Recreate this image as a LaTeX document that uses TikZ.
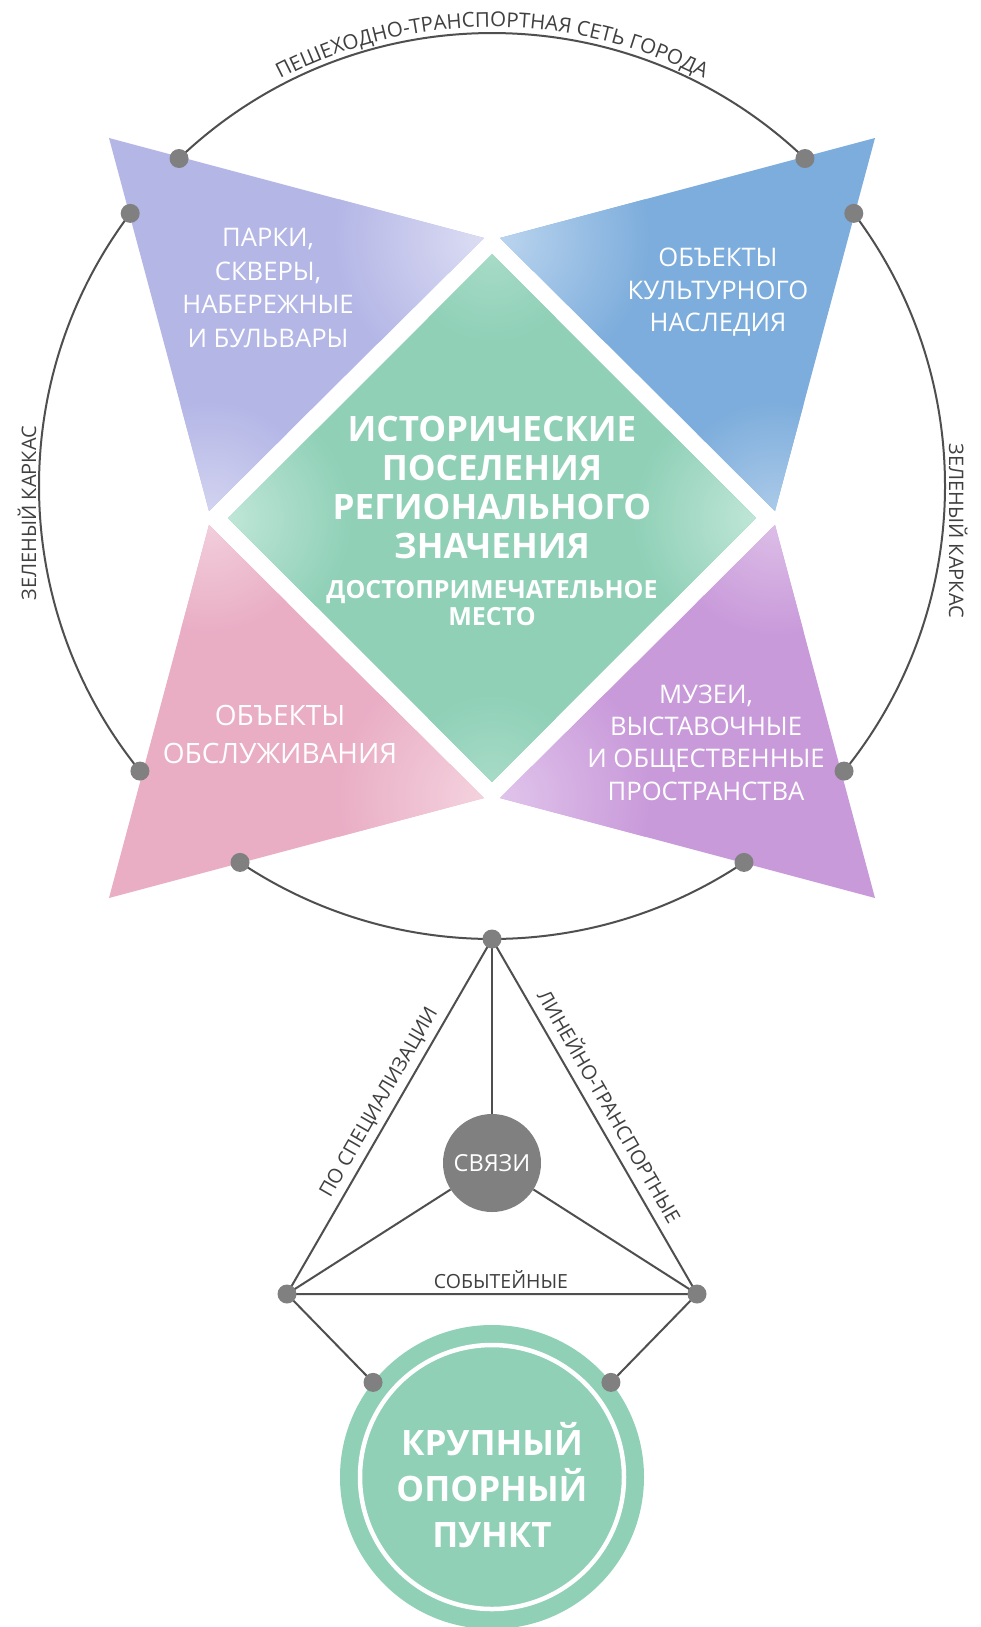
\documentclass[tikz,border=0pt]{standalone}
\usepackage{fontspec}
\setmainfont{Open Sans}
\usetikzlibrary{decorations.text}
\definecolor{lav}{HTML}{B4B6E6}
\definecolor{lavl}{HTML}{DCDDF3}
\definecolor{blu}{HTML}{7DADDC}
\definecolor{blul}{HTML}{BAD4EE}
\definecolor{pnk}{HTML}{E9ADC4}
\definecolor{pnkl}{HTML}{F4D2DE}
\definecolor{pur}{HTML}{C99ADA}
\definecolor{purl}{HTML}{E0C4EB}
\definecolor{mint}{HTML}{8FD0B7}
\definecolor{mintl}{HTML}{BFE6D7}
\definecolor{dotgray}{HTML}{808080}
\definecolor{linegray}{HTML}{4F4F4F}
\definecolor{lblcol}{HTML}{404040}
\newcommand\lblfont{\fontsize{20.5}{20.5}\selectfont\color{lblcol}}
\begin{document}
\begin{tikzpicture}[x=1pt,y=-1pt,
  ringline/.style={draw=linegray, line width=2pt},
  conn/.style={draw=linegray, line width=2pt},
  dotnode/.style={circle, fill=dotgray, minimum size=19pt, inner sep=0pt, outer sep=0pt},
  lbl/.style={text=lblcol, font=\fontsize{20}{20}\selectfont, inner sep=0pt, anchor=base},
  tri/.style={text=white, font=\fontsize{25.6}{25.6}\selectfont, inner sep=0pt, anchor=base},
  trib/.style={text=white, font=\fontsize{28}{28}\selectfont, inner sep=0pt, anchor=base},
  hbig/.style={text=white, font=\bfseries\fontsize{35}{35}\selectfont, inner sep=0pt, anchor=base},
  hsmall/.style={text=white, font=\bfseries\fontsize{25}{25}\selectfont, inner sep=0pt, anchor=base},
]
\useasboundingbox[fill=white] (0,0) rectangle (981,1627);

% ---------- big ring ----------
\coordinate (O) at (492,486);
\coordinate (cTL) at ([shift={(-133.7:453)}]O);
\coordinate (cTR) at ([shift={(-46.3:453)}]O);
\coordinate (cLU) at ([shift={(-143:453)}]O);
\coordinate (cLL) at ([shift={(141:453)}]O);
\coordinate (cRU) at ([shift={(-37:453)}]O);
\coordinate (cRL) at ([shift={(39:453)}]O);
\coordinate (cBL) at ([shift={(123.8:453)}]O);
\coordinate (cBR) at ([shift={(56.2:453)}]O);
\coordinate (cB)  at ([shift={(90:453)}]O);

\draw[ringline] (cTL) arc[start angle=-133.7, end angle=-46.3, radius=453];
\draw[ringline] (cLU) arc[start angle=-143, end angle=-219, radius=453];
\draw[ringline] (cRU) arc[start angle=-37, end angle=39, radius=453];
\draw[ringline] (cBL) arc[start angle=123.8, end angle=56.2, radius=453];

% ring labels
\path[decorate, decoration={text along path, text align=center,
   text={|\lblfont|ПЕШЕХОДНО-ТРАНСПОРТНАЯ СЕТЬ ГОРОДА}}]
   ([shift={(-140:459)}]O) arc[start angle=-140, end angle=-40, radius=459];
\node[lbl, rotate=90] (gl) at (36,513) {ЗЕЛЕНЫЙ КАРКАС};
\node[lbl, rotate=-90] (gr) at (949,531) {ЗЕЛЕНЫЙ КАРКАС};

% ---------- triangles ----------
\begin{scope}
 \clip (109,138) -- (484,238) -- (209,511) -- cycle;
 \fill[lav] (0,0) rectangle (981,1000);
 \shade[inner color=lavl, outer color=lav] (484,238) circle[radius=150];
 \shade[inner color=lav!60!white, outer color=lav] (209,511) circle[radius=110];
\end{scope}
\begin{scope}
 \clip (875,138) -- (500,238) -- (775,511) -- cycle;
 \fill[blu] (0,0) rectangle (981,1000);
 \shade[inner color=blul, outer color=blu] (500,238) circle[radius=150];
 \shade[inner color=blu!65!white, outer color=blu] (775,511) circle[radius=110];
\end{scope}
\begin{scope}
 \clip (109,898) -- (484,798) -- (209,525) -- cycle;
 \fill[pnk] (0,0) rectangle (981,1000);
 \shade[inner color=pnkl, outer color=pnk] (484,798) circle[radius=150];
 \shade[inner color=pnk!60!white, outer color=pnk] (209,525) circle[radius=110];
\end{scope}
\begin{scope}
 \clip (875,898) -- (500,798) -- (775,525) -- cycle;
 \fill[pur] (0,0) rectangle (981,1000);
 \shade[inner color=purl, outer color=pur] (500,798) circle[radius=150];
 \shade[inner color=pur!65!white, outer color=pur] (775,525) circle[radius=110];
\end{scope}
% ---------- diamond ----------
\begin{scope}
 \clip (492,254) -- (756,518) -- (492,782) -- (228,518) -- cycle;
 \fill[mint] (0,0) rectangle (981,1000);
 \shade[inner color=mintl, outer color=mint] (228,518) circle[radius=125];
 \shade[inner color=mintl, outer color=mint] (756,518) circle[radius=125];
 \shade[inner color=mint!50!mintl, outer color=mint] (492,254) circle[radius=90];
 \shade[inner color=mint!50!mintl, outer color=mint] (492,782) circle[radius=90];
\end{scope}

% ---------- texts in star ----------
\node[tri] (p1) at (268,246.5) {ПАРКИ,};
\node[tri] (p2) at (268,280) {СКВЕРЫ,};
\node[tri] (p3) at (268,313.5) {НАБЕРЕЖНЫЕ};
\node[tri] (p4) at (268,347) {И БУЛЬВАРЫ};

\node[tri] (k1) at (718,266.5) {ОБЪЕКТЫ};
\node[tri] (k2) at (718,299) {КУЛЬТУРНОГО};
\node[tri] (k3) at (718,331.5) {НАСЛЕДИЯ};

\node[trib] (o1) at (280,725) {ОБЪЕКТЫ};
\node[trib] (o2) at (280,763) {ОБСЛУЖИВАНИЯ};

\node[tri] (m1) at (706,703.5) {МУЗЕИ,};
\node[tri] (m2) at (706,735.7) {ВЫСТАВОЧНЫЕ};
\node[tri] (m3) at (706,767.9) {И ОБЩЕСТВЕННЫЕ};
\node[tri] (m4) at (706,800) {ПРОСТРАНСТВА};

\node[hbig] (h1) at (492,441.5) {ИСТОРИЧЕСКИЕ};
\node[hbig] (h2) at (492,480.6) {ПОСЕЛЕНИЯ};
\node[hbig] (h3) at (492,519.7) {РЕГИОНАЛЬНОГО};
\node[hbig] (h4) at (492,558.8) {ЗНАЧЕНИЯ};
\node[hsmall] (h5) at (492,598) {ДОСТОПРИМЕЧАТЕЛЬНОЕ};
\node[hsmall] (h6) at (492,625) {МЕСТО};

% ---------- lower network ----------
\node[circle, fill=mint, minimum size=304pt, inner sep=0pt] (hub) at (492,1477) {};
\draw[white, line width=4.5pt] (hub.center) circle[radius=132];
\coordinate (hL) at ([shift={(-141.5:152)}]hub.center);
\coordinate (hR) at ([shift={(-38.5:152)}]hub.center);
\coordinate (nBL) at (287,1294);
\coordinate (nBR) at (697,1294);

\node[circle, fill=dotgray, minimum size=98pt, inner sep=0pt, text=white,
      font=\fontsize{23.5}{23.5}\selectfont] (sv) at (492,1163) {СВЯЗИ};

\draw[conn] (cB) -- (sv);
\draw[conn] (cB) -- (nBL) -- (nBR) -- cycle;
\draw[conn] (sv) -- (nBL);
\draw[conn] (sv) -- (nBR);
\draw[conn] (nBL) -- (hL);
\draw[conn] (nBR) -- (hR);

\node[lbl, rotate=60] (ls) at (384.2,1105.5) {ПО СПЕЦИАЛИЗАЦИИ};
\node[lbl, rotate=-60] (lt) at (602.7,1110.3) {ЛИНЕЙНО-ТРАНСПОРТНЫЕ};
\node[lbl, font=\fontsize{19.5}{19.5}\selectfont] (le) at (501,1288) {СОБЫТЕЙНЫЕ};

\node[hbig] (b1) at (492,1455) {КРУПНЫЙ};
\node[hbig] (b2) at (492,1501) {ОПОРНЫЙ};
\node[hbig] (b3) at (492,1547) {ПУНКТ};

% ---------- dots ----------
\foreach \p/\n in {cTL/d1,cTR/d2,cLU/d3,cLL/d4,cRU/d5,cRL/d6,cBL/d7,cBR/d8,cB/d9,nBL/d10,nBR/d11,hL/d12,hR/d13}
  \node[dotnode] (\n) at (\p) {};
\end{tikzpicture}
\end{document}
